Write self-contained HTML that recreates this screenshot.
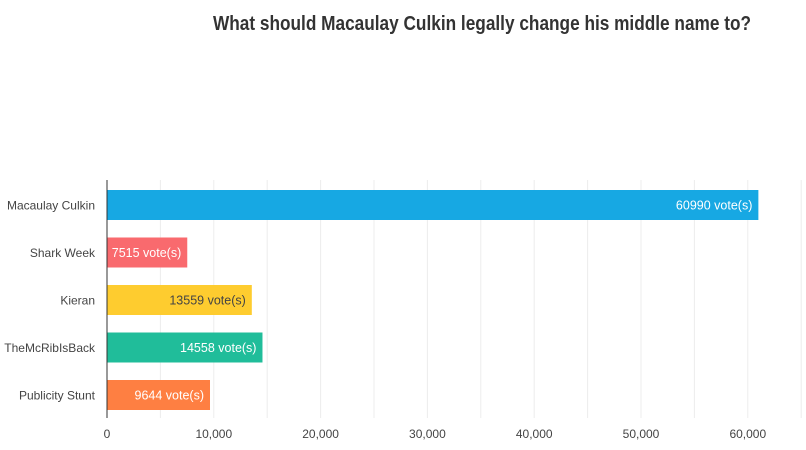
<!DOCTYPE html>
<html><head><meta charset="utf-8"><style>
body{margin:0;background:#fff;}
svg{display:block;font-family:"Liberation Sans",sans-serif;}
</style></head><body>
<svg id="c" width="806" height="450">
<text x="482" y="30" text-anchor="middle" font-size="20" font-weight="bold" fill="#333" textLength="538" lengthAdjust="spacingAndGlyphs">What should Macaulay Culkin legally change his middle name to?</text>
<g id="grid"></g><g id="bars"></g><g id="axis"></g>
</svg>
<script>
const categories=["Macaulay Culkin","Shark Week","Kieran","TheMcRibIsBack","Publicity Stunt"];
const votes=[60990,7515,13559,14558,9644];
const colors=["#17a8e3","#f96a6e","#fecc2f","#20bd9a","#fe7f42"];
const labelColors=["#fff","#fff","#444","#fff","#fff"];
const ticks=[0,10000,20000,30000,40000,50000,60000];
const tickLabels=["0","10,000","20,000","30,000","40,000","50,000","60,000"];
const ns="http://www.w3.org/2000/svg";
const x0=107,pxPer=106.8/10000;
const X=v=>x0+v*pxPer;
const Y=i=>190+i*47.5;
function mk(t,a,p){const e=document.createElementNS(ns,t);for(const k in a)e.setAttribute(k,a[k]);p.appendChild(e);return e;}
const grid=document.getElementById('grid'),bars=document.getElementById('bars'),axis=document.getElementById('axis');
for(let v=5000;v<=65000;v+=5000){const l=mk('line',{x1:X(v),x2:X(v),y1:180,y2:418,stroke:'#ececec','stroke-width':1},grid);

}
categories.forEach((c,i)=>{
const r=mk('rect',{x:x0,y:Y(i),width:X(votes[i])-x0,height:30,fill:colors[i]},bars);


const t=mk('text',{x:X(votes[i])-6,y:Y(i)+19.5,'text-anchor':'end','font-size':12.5,fill:labelColors[i]},bars);
t.textContent=votes[i]+" vote(s)";


const cl=mk('text',{x:95,y:Y(i)+19.5,'text-anchor':'end','font-size':12,fill:'#444'},axis);
cl.textContent=c;


});
const ax=mk('line',{x1:x0,x2:x0,y1:180,y2:418,stroke:'#333','stroke-width':1},axis);


ticks.forEach((v,i)=>{const t=mk('text',{x:X(v),y:438,'text-anchor':'middle','font-size':12,fill:'#444'},axis);
t.textContent=tickLabels[i];

});
</script>
</body></html>
